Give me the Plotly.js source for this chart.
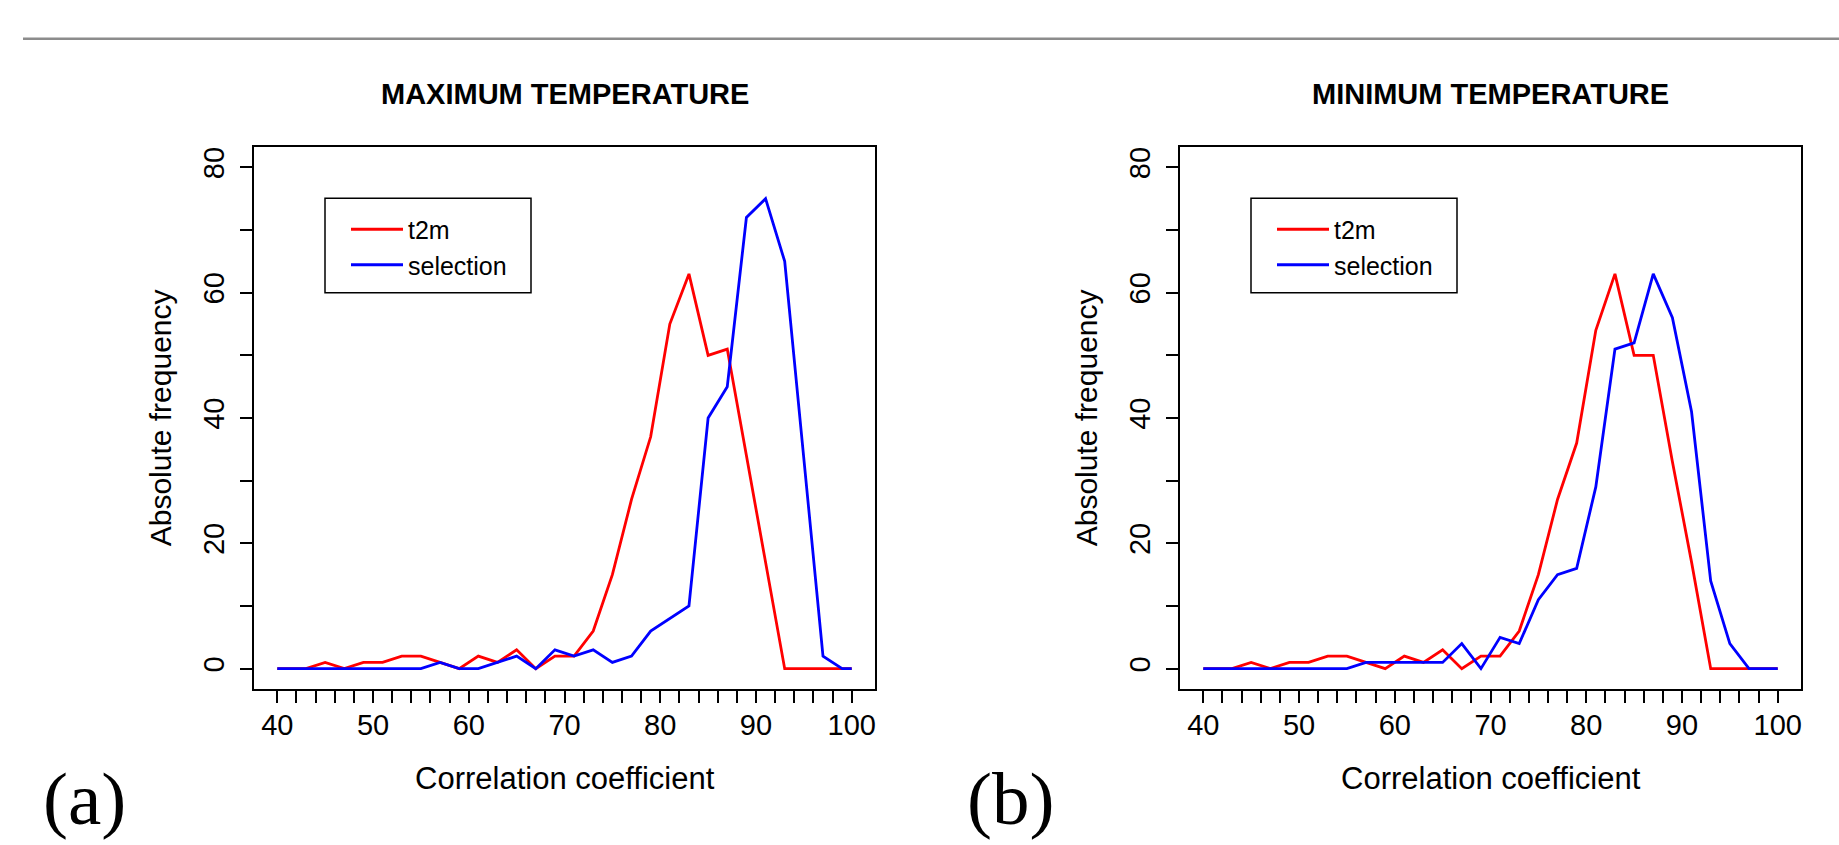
<!DOCTYPE html>
<html>
<head>
<meta charset="utf-8">
<script src="https://cdn.plot.ly/plotly-3.0.1.min.js"></script>
<style>
html,body{margin:0;padding:0;background:#ffffff;}
#chart{width:1839px;height:845px;}
</style>
</head>
<body>
<div id="chart"></div>
<script>
// Frequency polygon points (class mid-points plus the two end points)
const corr = [40,41,43,45,47,49,51,53,55,57,59,61,63,65,67,69,71,73,75,77,79,81,83,85,87,89,91,93,95,97,99,100];
// (a) MAXIMUM TEMPERATURE
const t2mMax = [0,0,0,1,0,1,1,2,2,1,0,2,1,3,0,2,2,6,15,27,37,55,63,50,51,34,17,0,0,0,0,0];
const selMax = [0,0,0,0,0,0,0,0,0,1,0,0,1,2,0,3,2,3,1,2,6,8,10,40,45,72,75,65,34,2,0,0];
// (b) MINIMUM TEMPERATURE
const t2mMin = [0,0,0,1,0,1,1,2,2,1,0,2,1,3,0,2,2,6,15,27,36,54,63,50,50,33,17,0,0,0,0,0];
const selMin = [0,0,0,0,0,0,0,0,0,1,1,1,1,1,4,0,5,4,11,15,16,29,51,52,63,56,41,14,4,0,0,0];

const seriesNames = ['t2m','selection'];
const seriesColors = ['#FF0000','#0000FF'];
const panelTitles = ['MAXIMUM TEMPERATURE','MINIMUM TEMPERATURE'];
const panelLabels = ['(a)','(b)'];
const xTitle = 'Correlation coefficient';
const yTitle = 'Absolute frequency';
// class breaks (small tick marks) and labelled ticks
const classBreaks = [40,42,44,46,48,50,52,54,56,58,60,62,64,66,68,70,72,74,76,78,80,82,84,86,88,90,92,94,96,98,100];
const xTickVals = [40,50,60,70,80,90,100];
const yTickVals = [0,20,40,60,80];
const yMinorVals = [10,30,50,70];

const W = 1839, H = 845;
const px = v => v / W;
const py = v => 1 - v / H;

const SANS = 'Liberation Sans, Arial, Helvetica, sans-serif';
const SERIF = 'Liberation Serif, Times New Roman, serif';

// panel geometry (pixels)
const panels = [
  {left:254.3, right:874.7},
  {left:1180.3, right:1800.7}
];
const plotTop = 147.3, plotBottom = 688.7;

const traces = [];
const dataSets = [[t2mMax, selMax],[t2mMin, selMin]];
dataSets.forEach((pair, p) => {
  pair.forEach((ys, s) => {
    traces.push({
      x: corr, y: ys, type:'scatter', mode:'lines',
      name: seriesNames[s],
      line:{color: seriesColors[s], width:2.8},
      xaxis: p === 0 ? 'x' : 'x2',
      yaxis: p === 0 ? 'y' : 'y2',
      legend: p === 0 ? 'legend' : 'legend2',
      hoverinfo:'x+y+name'
    });
  });
});

const axisBase = {
  showline:true, mirror:true, linecolor:'#000', linewidth:1.5,
  showgrid:false, zeroline:false,
  ticks:'outside', ticklen:13, tickwidth:1.5, tickcolor:'#000',
  tickfont:{family:SANS, size:29, color:'#000'},
  fixedrange:true
};

function xAxis(p){
  return Object.assign({}, axisBase, {
    domain:[px(panels[p].left), px(panels[p].right)],
    range:[37.6, 102.4],
    tickmode:'array', tickvals:xTickVals, ticktext:xTickVals.map(String),
    minor:{tickmode:'array', tickvals:classBreaks, ticks:'outside', ticklen:13, tickwidth:1.5, tickcolor:'#000'},
    anchor: p === 0 ? 'y' : 'y2',
    ticklabelstandoff: -3
  });
}
function yAxis(p){
  return Object.assign({}, axisBase, {
    domain:[py(plotBottom), py(plotTop)],
    range:[-3.2, 83.2],
    tickmode:'array', tickvals:yTickVals, ticktext:yTickVals.map(String),
    tickangle:-90,
    minor:{tickmode:'array', tickvals:yMinorVals, ticks:'outside', ticklen:13, tickwidth:1.5, tickcolor:'#000'},
    anchor: p === 0 ? 'x' : 'x2',
    ticklabelstandoff: 4
  });
}

const annotations = [];
const shapes = [];
panels.forEach((pn, p) => {
  const cx = (pn.left + pn.right) / 2;
  annotations.push({xref:'paper', yref:'paper', x:px(cx), y:py(94), xanchor:'center', yanchor:'middle',
    text:'<b>'+panelTitles[p]+'</b>', showarrow:false, font:{family:SANS, size:29, color:'#000'}});
  annotations.push({xref:'paper', yref:'paper', x:px(cx), y:py(778), xanchor:'center', yanchor:'middle',
    text:xTitle, showarrow:false, font:{family:SANS, size:31, color:'#000'}});
  annotations.push({xref:'paper', yref:'paper', x:px(pn.left - 93), y:py((plotTop+plotBottom)/2), xanchor:'center', yanchor:'middle',
    text:yTitle, textangle:-90, showarrow:false, font:{family:SANS, size:30, color:'#000'}});
  annotations.push({xref:'paper', yref:'paper', x:px(pn.left - 170), y:py(798), xanchor:'center', yanchor:'middle',
    text:panelLabels[p], showarrow:false, font:{family:SERIF, size:75, color:'#000'}});
  // legend frame
  shapes.push({type:'rect', xref:'paper', yref:'paper',
    x0:px(pn.left + 70.7), x1:px(pn.left + 276.7), y0:py(292.7), y1:py(198.3),
    line:{color:'#000', width:1.5}, fillcolor:'rgba(0,0,0,0)', layer:'above'});
});
// rule at top of page
shapes.push({type:'line', xref:'paper', yref:'paper', x0:px(23), x1:1, y0:py(38.7), y1:py(38.7),
  line:{color:'#8c8c8c', width:2.5}});

const legendBase = {
  xanchor:'left', yanchor:'top', bgcolor:'rgba(0,0,0,0)', borderwidth:0,
  font:{family:SANS, size:25, color:'#000'}, itemwidth:52, tracegroupgap:0
};

const layout = {
  width:W, height:H,
  margin:{l:0, r:0, t:0, b:0},
  paper_bgcolor:'#ffffff', plot_bgcolor:'#ffffff',
  showlegend:true,
  xaxis:xAxis(0), yaxis:yAxis(0), xaxis2:xAxis(1), yaxis2:yAxis(1),
  legend: Object.assign({}, legendBase, {x:px(panels[0].left + 91.7), y:py(206.5)}),
  legend2: Object.assign({}, legendBase, {x:px(panels[1].left + 91.7), y:py(206.5)}),
  annotations:annotations,
  shapes:shapes
};

Plotly.newPlot('chart', traces, layout, {displayModeBar:false, staticPlot:false, responsive:false});
</script>
</body>
</html>
